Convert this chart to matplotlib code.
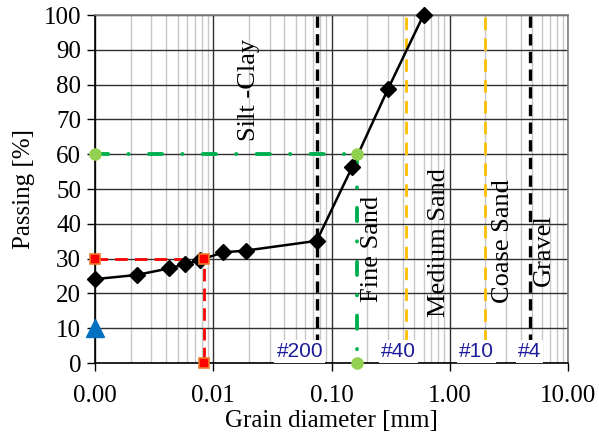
import matplotlib
matplotlib.use("Agg")
import matplotlib.pyplot as plt
from matplotlib.ticker import FixedLocator, FuncFormatter, LogLocator, NullFormatter

# Grain size distribution (sieve + hydrometer)
grain_mm = [0.001, 0.00225, 0.00425, 0.0058, 0.0077, 0.0122, 0.0188, 0.075, 0.15, 0.30, 0.60]
passing = [24.1, 25.3, 27.2, 28.4, 29.6, 31.8, 32.3, 35.1, 56.4, 78.7, 100.0]

# Characteristic diameters
d60 = 0.165
d30 = 0.0084
d_min = 0.001
d10_mark = 10.0

# Sieve boundaries
sieve_names = ["#200", "#40", "#10", "#4"]
sieve_sizes = [0.075, 0.425, 2.0, 4.75]
sieve_colors = ["black", "#ffc000", "#ffc000", "black"]
sieve_label_x = [0.054, 0.371, 1.68, 4.75]

# Soil class labels
class_names = ["Silt -Clay", "Fine Sand", "Medium Sand", "Coase Sand", "Gravel"]
class_x = [0.020, 0.218, 0.809, 2.81, 6.3]
class_y = [78.6, 32.8, 34.5, 34.9, 32.5]

fig = plt.figure(figsize=(5.99, 4.40), dpi=100)
ax = fig.add_axes([95 / 599, 77 / 440, 473 / 599, 348 / 440])
serif = "Liberation Serif"

ax.set_xscale("log")
ax.set_xlim(0.001, 10)
ax.set_ylim(0, 100)

# grid
ax.xaxis.set_major_locator(FixedLocator([0.001, 0.01, 0.1, 1, 10]))
ax.xaxis.set_minor_locator(LogLocator(base=10, subs=range(2, 10)))
ax.xaxis.set_minor_formatter(NullFormatter())
ax.xaxis.set_major_formatter(FuncFormatter(lambda v, p: f"{v:.2f}"))
ax.set_yticks(range(0, 101, 10))
ax.grid(which="major", color="#303030", lw=1.0, zorder=0)
ax.grid(which="minor", axis="x", color="#c8c8c8", lw=1.0, zorder=0)
ax.set_axisbelow(True)
ax.tick_params(which="major", direction="out", length=6, width=1, color="black",
               labelsize=18, pad=4)
ax.tick_params(which="minor", length=0)
for lab in ax.get_xticklabels() + ax.get_yticklabels():
    lab.set_fontfamily(serif)
ax.tick_params(axis="x", pad=10)

for s in ["top", "right"]:
    ax.spines[s].set_color("#7f7f7f")
    ax.spines[s].set_linewidth(1.2)
for s in ["left", "bottom"]:
    ax.spines[s].set_color("black")
    ax.spines[s].set_linewidth(1.2)

# sieve boundary lines
for xs, c in zip(sieve_sizes, sieve_colors):
    if c == "black":
        ax.plot([xs, xs], [0, 100], color=c, lw=2.4, ls=(0, (3.4, 1.9)), zorder=3)
    else:
        ax.plot([xs, xs], [0, 100], color=c, lw=2.0, ls=(0, (4.5, 3.0)), zorder=3)

# D60 construction
green_ls = (0, (3.4, 5.2, 0.05, 5.2))
for xs, ys in [([d_min, d60], [60, 60]), ([d60, d60], [60, 0])]:
    ax.plot(xs, ys, color="#00b050", lw=2.8, ls=green_ls,
            dash_capstyle="round", zorder=4)
ax.plot([d_min, d60, d60], [60, 60, 0], ls="none", marker="o", ms=8,
        color="#92d050", zorder=6, clip_on=False)

# D30 construction
ax.plot([d_min, d30, d30], [30, 30, 0], color="#ff0000", lw=2.0,
        ls=(0, (4.5, 2.6)), zorder=4)
ax.plot([d_min, d30, d30], [30, 30, 0], ls="none", marker="s", ms=7,
        mfc="#ff0000", mec="#ed7d31", mew=1.2, zorder=6, clip_on=False)

# D10 marker
ax.plot([d_min], [d10_mark], ls="none", marker="^", ms=13, color="#0070c0",
        zorder=6, clip_on=False)

# grading curve
ax.plot(grain_mm, passing, color="black", lw=1.8, marker="D", ms=8.5,
        zorder=5, clip_on=False)

# class labels
for name, xv, yv in zip(class_names, class_x, class_y):
    ax.text(xv, yv, name, rotation=90, ha="center", va="center",
            fontsize=19, fontfamily=serif, zorder=7)

# sieve labels
for name, xv in zip(sieve_names, sieve_label_x):
    ax.text(xv, 3.3, name, ha="center", va="center", fontsize=15,
            fontfamily="Liberation Sans", color="#1c1c9a", zorder=8,
            bbox=dict(facecolor="white", edgecolor="none", pad=1.5))

ax.set_xlabel("Grain diameter [mm]", fontsize=18, fontfamily=serif, labelpad=2)
ax.set_ylabel("Passing [%]", fontsize=18, fontfamily=serif, labelpad=6)

fig.savefig("out.png", dpi=100)
